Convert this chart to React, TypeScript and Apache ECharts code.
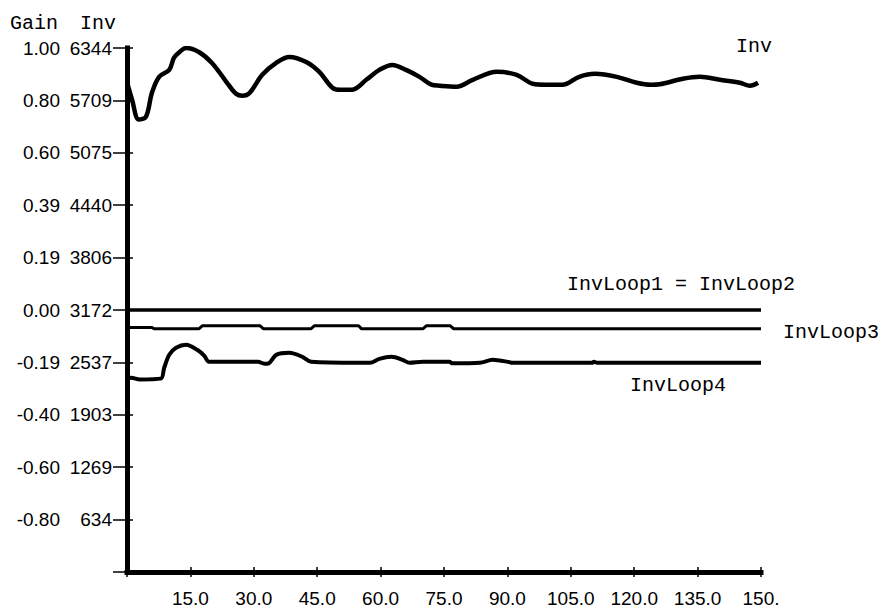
import React, { useEffect, useRef } from "react";
import * as echarts from "echarts";

// ---- data ----
const xTicks = [15, 30, 45, 60, 75, 90, 105, 120, 135, 150];
const invTickLabels = ["634", "1269", "1903", "2537", "3172", "3806", "4440", "5075", "5709", "6344"];
const gainTickLabels = ["-0.80", "-0.60", "-0.40", "-0.19", "0.00", "0.19", "0.39", "0.60", "0.80", "1.00"];

const invT = [0, 1.2, 2.8, 4.5, 5.9, 7.6, 10, 11.1, 12.5, 14, 17, 20.1, 23.5, 25.8, 27.3, 29, 32, 35.3, 38.4, 42.4, 45.5, 48.6, 50.5, 53.3, 56.6, 59.7, 62.8, 66, 69.2, 72, 74, 78, 81.8, 87.5, 92.2, 96, 99, 103, 107, 110.7, 115.9, 120.6, 124, 126, 131.5, 135.5, 140.3, 145, 147.4, 149.3];
const invV = [5930, 5718, 5477, 5513, 5802, 5995, 6079, 6224, 6300, 6344, 6296, 6163, 5935, 5790, 5766, 5800, 6019, 6163, 6236, 6175, 6055, 5863, 5838, 5840, 5959, 6079, 6139, 6079, 5995, 5900, 5887, 5875, 5959, 6055, 6019, 5911, 5899, 5899, 5995, 6031, 5995, 5923, 5899, 5905, 5971, 5995, 5959, 5923, 5887, 5923];

const loop12T = [0, 150];
const loop12V = [3172, 3172];

const loop3T = [0, 5.9, 6.4, 17, 17.8, 31.5, 32.3, 43.5, 44.3, 54.8, 55.5, 70, 70.8, 76.5, 77.3, 150];
const loop3V = [2960, 2960, 2944, 2944, 2981, 2981, 2944, 2944, 2981, 2981, 2944, 2944, 2981, 2981, 2944, 2944];

const loop4T = [0, 1, 3, 8, 8.8, 10, 11.6, 14, 16.6, 18.3, 19.4, 31, 32.5, 33.5, 35.3, 38.4, 41.5, 43.6, 54.5, 57.5, 59.7, 62.6, 65.2, 66.8, 70, 76.3, 77, 83.5, 86.5, 90.5, 91, 110, 110.5, 111.2, 150];
const loop4V = [2341, 2351, 2331, 2341, 2473, 2629, 2714, 2750, 2690, 2617, 2545, 2545, 2521, 2526, 2629, 2653, 2605, 2545, 2533, 2533, 2581, 2605, 2569, 2533, 2545, 2545, 2526, 2533, 2569, 2541, 2533, 2533, 2545, 2533, 2533];

const Y_MAX = 6344;
const Y_STEP = 634.4;

const pairs = (t: number[], v: number[]) => t.map((x, i) => [x, v[i]]);

const SANS = "'Liberation Sans', Arial, sans-serif";
const MONO = "'Liberation Mono', 'DejaVu Sans Mono', monospace";

export default function App() {
  const ref = useRef<HTMLDivElement>(null);
  useEffect(() => {
    document.body.style.margin = "0";
    const chart = echarts.init(ref.current!, undefined, { renderer: "svg" });
    const axisLineStyle = { color: "#000", width: 5, cap: "square" as const };
    const lbl = (text: string, x: number, y: number) => ({
      type: "text",
      x,
      y,
      style: { text, fontSize: 20, fontFamily: MONO, fill: "#000", verticalAlign: "middle" },
    });
    chart.setOption({
      animation: false,
      backgroundColor: "#fff",
      grid: { left: 127, right: 120, top: 48, bottom: 38, outerBoundsMode: "none" },
      xAxis: [
        {
          type: "value",
          min: 0,
          max: 150,
          interval: 15,
          position: "bottom",
          axisLine: { show: true, onZero: false, lineStyle: axisLineStyle },
          axisTick: { show: true, inside: false, length: 5, lineStyle: { color: "#000", width: 1.5 } },
          axisLabel: {
            margin: 17,
            fontSize: 19,
            fontFamily: SANS,
            color: "#000",
            formatter: (v: number) => {
              const i = xTicks.indexOf(Math.round(v));
              if (i < 0) return "";
              return xTicks[i] === 150 ? "150." : xTicks[i].toFixed(1);
            },
          },
          splitLine: { show: false },
        },
        {
          type: "value",
          min: 0,
          max: 150,
          interval: 15,
          position: "bottom",
          axisLine: { show: false },
          axisTick: { show: true, inside: true, length: 5, lineStyle: { color: "#000", width: 1.5 } },
          axisLabel: { show: false },
          splitLine: { show: false },
        },
      ],
      yAxis: [
        {
          type: "value",
          min: 0,
          max: Y_MAX,
          interval: Y_STEP,
          position: "left",
          axisLine: { show: true, onZero: false, lineStyle: axisLineStyle },
          axisTick: { show: true, inside: false, length: 14, lineStyle: { color: "#000", width: 1.5 } },
          axisLabel: {
            margin: 15,
            color: "#000",
            formatter: (v: number) => {
              const idx = Math.round(v / Y_STEP);
              if (idx < 1 || idx > 10) return "";
              return `{g|${gainTickLabels[idx - 1]}}{v|${invTickLabels[idx - 1]}}`;
            },
            rich: {
              g: { width: 48, align: "right", fontSize: 19, fontFamily: SANS, color: "#000" },
              v: { width: 52, align: "right", fontSize: 19, fontFamily: SANS, color: "#000" },
            },
          },
          splitLine: { show: false },
        },
        {
          type: "value",
          min: 0,
          max: Y_MAX,
          interval: Y_STEP,
          position: "left",
          axisLine: { show: false },
          axisTick: { show: true, inside: true, length: 6, lineStyle: { color: "#000", width: 1.5 } },
          axisLabel: { show: false },
          splitLine: { show: false },
        },
      ],
      series: [
        {
          name: "Inv",
          type: "line",
          data: pairs(invT, invV),
          smooth: 0.35,
          showSymbol: false,
          lineStyle: { color: "#000", width: 4.5 },
        },
        {
          name: "InvLoop1",
          type: "line",
          data: pairs(loop12T, loop12V),
          showSymbol: false,
          lineStyle: { color: "#000", width: 3 },
        },
        {
          name: "InvLoop2",
          type: "line",
          data: pairs(loop12T, loop12V),
          showSymbol: false,
          lineStyle: { color: "#000", width: 3 },
        },
        {
          name: "InvLoop3",
          type: "line",
          data: pairs(loop3T, loop3V),
          showSymbol: false,
          lineStyle: { color: "#000", width: 3 },
        },
        {
          name: "InvLoop4",
          type: "line",
          data: pairs(loop4T, loop4V),
          smooth: 0.3,
          showSymbol: false,
          lineStyle: { color: "#000", width: 4 },
        },
      ],
      graphic: [
        lbl("Gain", 10, 23),
        lbl("Inv", 80, 23),
        lbl("Inv", 736, 46),
        lbl("InvLoop1 = InvLoop2", 567, 284),
        lbl("InvLoop3", 783, 332),
        lbl("InvLoop4", 630, 385),
      ],
    });
    return () => chart.dispose();
  }, []);
  return <div ref={ref} style={{ width: 881, height: 610 }} />;
}
